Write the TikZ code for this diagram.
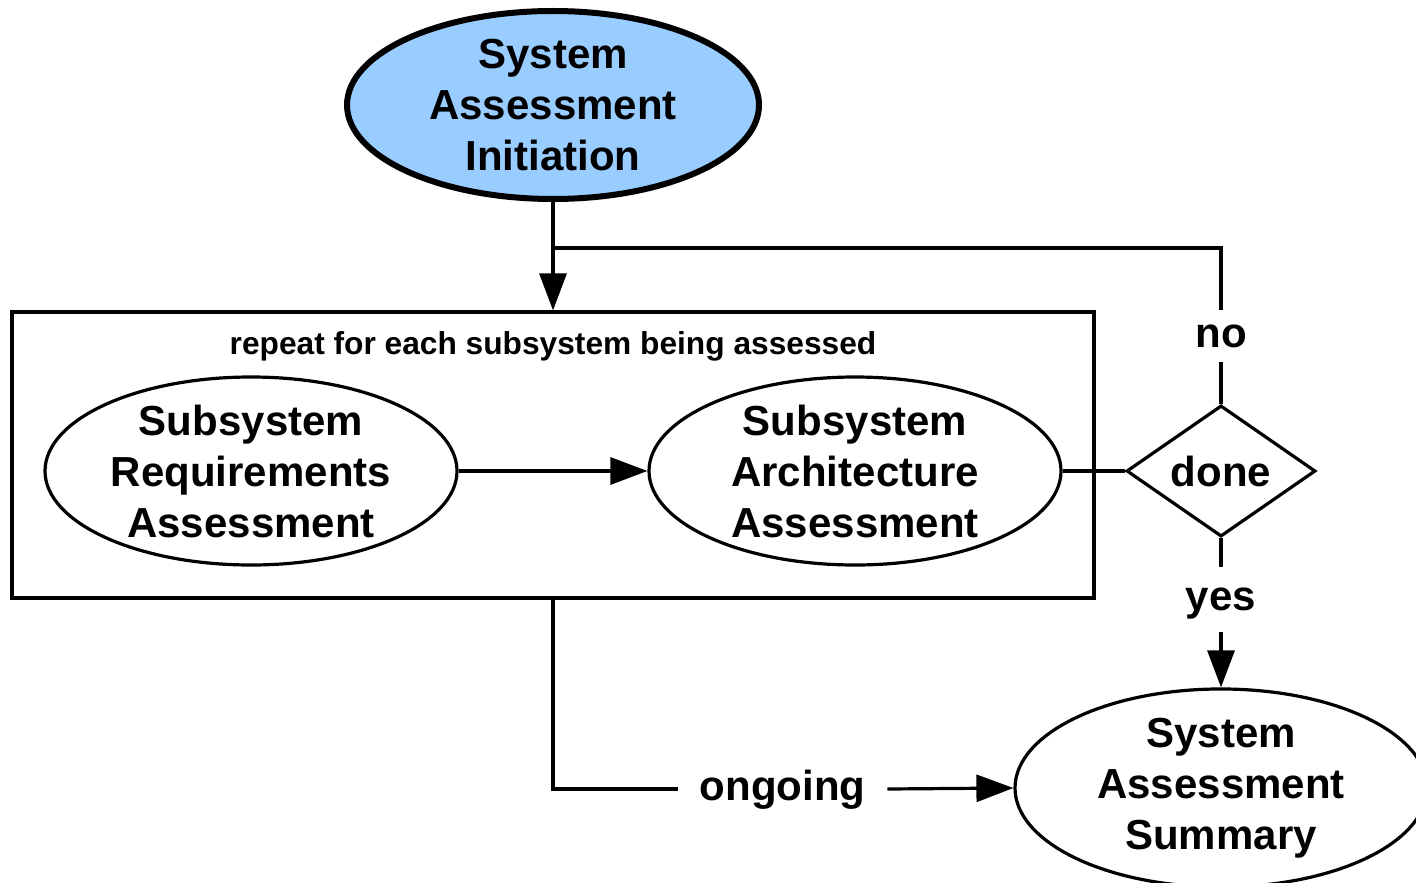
\documentclass[tikz,border=0pt]{standalone}
\usepackage{fontspec}
\setmainfont{Liberation Sans}
\usetikzlibrary{shapes.geometric,arrows.meta}
\definecolor{initblue}{RGB}{153,204,255}
\begin{document}
\begin{tikzpicture}[x=0.5pt,y=-0.5pt,
  every node/.style={font=\bfseries\fontsize{21pt}{25.5pt}\selectfont},
  proc/.style={ellipse, draw, line width=1.6pt, minimum width=206pt, minimum height=94pt, inner sep=0pt, align=center},
  conn/.style={line width=1.6pt},
  arr/.style={conn, -{Triangle[length=18.5pt,width=13.5pt]}},
  lbl/.style={inner sep=0pt, text height=11pt, text depth=0pt}
]
\useasboundingbox (0,0) rectangle (1416,882);
\node[proc, fill=initblue, line width=3pt] (init) at (553,105) {System\\Assessment\\Initiation};
\node[draw, line width=1.6pt, minimum width=541pt, minimum height=143pt, inner sep=0pt] (loop) at (553,455) {};
\node[font=\bfseries\fontsize{15.85pt}{18pt}\selectfont] (repeat) at (553,346) {repeat for each subsystem being assessed};
\node[proc] (req) at (251,471) {Subsystem\\Requirements\\Assessment};
\node[proc] (arch) at (855,471) {Subsystem\\Architecture\\Assessment};
\node[diamond, draw, line width=1.6pt, minimum width=94.5pt, minimum height=63pt, inner sep=0pt] (done) at (1221,471) {done};
\node[proc] (summary) at (1221,788) {System\\Assessment\\Summary};
\node[lbl, minimum height=26pt] (no) at (1221,336) {no};
\node[lbl, minimum height=32.5pt] (yes) at (1221,599.5) {yes};
\node[lbl, minimum width=104.5pt] (ongoing) at (782.5,789) {ongoing};
\coordinate (split) at (553,248);
\draw[arr] (init.south) -- (loop.north);
\draw[conn] (split) -| (no.north);
\draw[conn] (no.south) -- (done.north);
\draw[conn] (done.south) -- (yes.north);
\draw[arr] (yes.south) -- (summary.north);
\draw[arr] (req.east) -- (arch.west);
\draw[conn] (arch.east) -- (done.west);
\draw[conn] (loop.south) |- (ongoing.west);
\draw[arr] (ongoing.east) -- (summary.west);
\end{tikzpicture}
\end{document}
